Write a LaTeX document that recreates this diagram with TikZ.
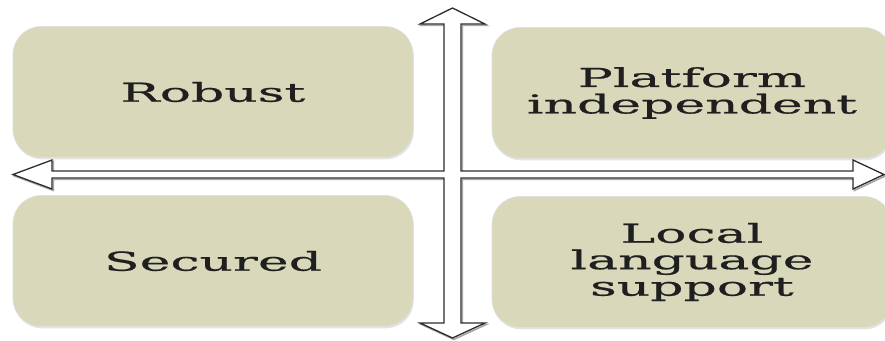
\documentclass[tikz,border=0pt]{standalone}
\usepackage{fontspec}
\newfontfamily\panelfont[FakeStretch=2.0, FakeBold=0.7]{DejaVu Serif}
\usetikzlibrary{shadows}
\definecolor{panelfill}{RGB}{217,216,186}
\definecolor{arrowline}{RGB}{45,45,45}
\tikzset{
  panel/.style={
    fill=panelfill, draw=white!88!black, line width=0.7pt,
    rounded corners=28pt, minimum width=400pt, minimum height=131pt,
    align=center, text=black!88,
    font=\panelfont\fontsize{26}{26.5}\selectfont,
    drop shadow={shadow xshift=0.8pt, shadow yshift=-1.8pt, fill=black!22}},
  crossline/.style={draw=arrowline, fill=white, line width=1.3pt, line join=miter},
  crossshade/.style={draw=black!35, line width=1.6pt, line join=miter},
}
\begin{document}
\begin{tikzpicture}[x=1pt, y=-1pt]
  \useasboundingbox (0,0) rectangle (885,340);
  \clip (0,0) rectangle (885,340);

  % four feature panels
  \node[panel] (robust)   at (213,92)  {Robust};
  \node[panel] (platform) at (692,93)  {Platform\\independent};
  \node[panel] (secured)  at (213,261) {Secured};
  \node[panel] (local)    at (692,262) {Local\\language\\support};

  % centre of the double-headed cross
  \coordinate (hub) at (452.5,174.5);

  % outline of the two crossing double arrows, with a soft grey offset behind
  \def\crosspath{
    (452.5,8) -- (485,24) -- (461,24) -- (461,171) -- (853,171) -- (853,160)
    -- (884,174.5) -- (853,189) -- (853,178) -- (461,178) -- (461,323)
    -- (485,323) -- (452.5,338) -- (420,323) -- (444,323) -- (444,178)
    -- (52,178) -- (52,189) -- (13,174.5) -- (52,160) -- (52,171)
    -- (444,171) -- (444,24) -- (420,24) -- cycle}
  \draw[crossshade, shift={(1.4,1.4)}] \crosspath;
  \draw[crossline] \crosspath;
\end{tikzpicture}
\end{document}
